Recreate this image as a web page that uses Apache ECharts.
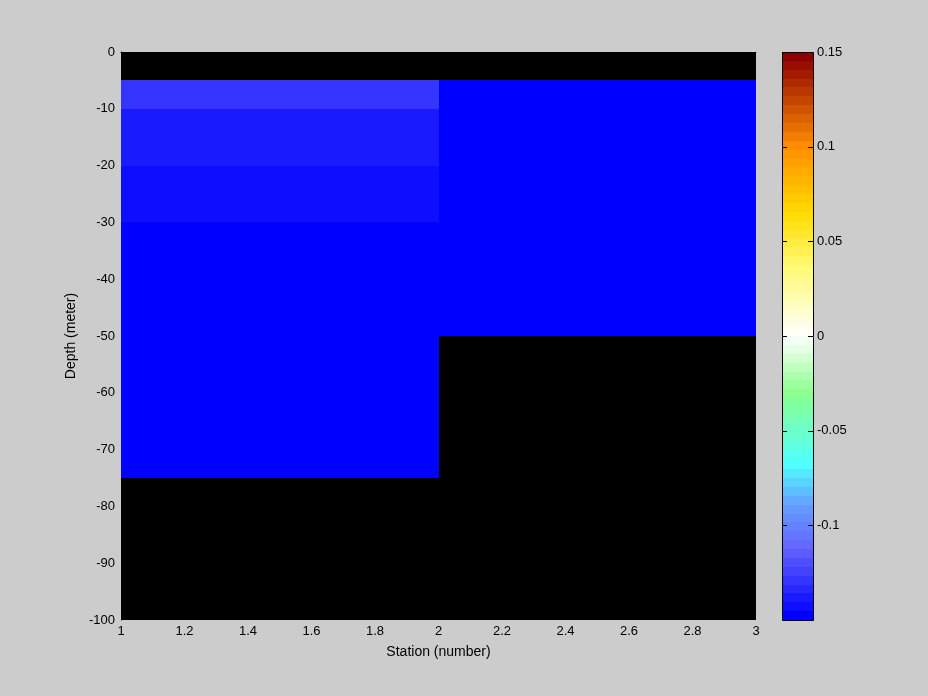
<!DOCTYPE html>
<html>
<head>
<meta charset="utf-8">
<script src="https://cdn.jsdelivr.net/npm/echarts@6/dist/echarts.min.js"></script>
<style>
html,body{margin:0;padding:0;background:#cccccc;}
#chart{width:928px;height:696px;}
</style>
</head>
<body>
<div id="chart"></div>
<script>
// ---- data ----
const stationEdges = [1, 2, 3];
const depthEdges = [0, -5, -10, -20, -30, -50, -75, -100];
// value for each depth interval (null = no data)
const station1Values = [null, -0.129, -0.138, -0.143, -0.148, -0.148, null];
const station2Values = [null, -0.148, -0.148, -0.148, -0.148, null, null];
const colorbarTickValues = [-0.1, -0.05, 0, 0.05, 0.1, 0.15];
const colorMin = -0.15, colorMax = 0.15, nLevels = 64;

// ---- colormap ----
const cmapStops = [
  [0, [0, 0, 255]], [0.12, [100, 100, 255]], [0.2, [100, 160, 255]],
  [0.27, [80, 255, 255]], [0.4, [140, 255, 140]], [0.5, [255, 255, 255]],
  [0.62, [255, 250, 120]], [0.72, [255, 220, 0]], [0.84, [255, 140, 0]],
  [1, [140, 0, 0]]
];
function interpStops(t) {
  for (let i = 1; i < cmapStops.length; i++) {
    const [t1, c1] = cmapStops[i];
    const [t0, c0] = cmapStops[i - 1];
    if (t <= t1) {
      const f = (t - t0) / (t1 - t0);
      return c0.map((v, j) => Math.round(v + (c1[j] - v) * f));
    }
  }
  return cmapStops[cmapStops.length - 1][1];
}
const colormap = [];
for (let k = 0; k < nLevels; k++) {
  const c = interpStops(k / (nLevels - 1));
  colormap.push('rgb(' + c.join(',') + ')');
}
function levelOf(v) {
  let k = Math.floor((v - colorMin) / (colorMax - colorMin) * nLevels);
  return Math.max(0, Math.min(nLevels - 1, k));
}

// ---- cells ----
const stationValues = [station1Values, station2Values];
const cells = [];
stationValues.forEach((vals, si) => {
  vals.forEach((v, di) => {
    if (v === null) return;
    cells.push([stationEdges[si], stationEdges[si + 1], depthEdges[di], depthEdges[di + 1], v]);
  });
});
const cbarCells = colormap.map((c, k) => [
  colorMin + k * (colorMax - colorMin) / nLevels,
  colorMin + (k + 1) * (colorMax - colorMin) / nLevels, k
]);

function rectFrom(p0, p1) {
  const x0 = Math.round(Math.min(p0[0], p1[0])), x1 = Math.round(Math.max(p0[0], p1[0]));
  const y0 = Math.round(Math.min(p0[1], p1[1])), y1 = Math.round(Math.max(p0[1], p1[1]));
  return { x: x0, y: y0, width: x1 - x0, height: y1 - y0 };
}

const font = 'Liberation Sans, Arial, sans-serif';
const chart = echarts.init(document.getElementById('chart'));
chart.setOption({
  backgroundColor: '#cccccc',
  animation: false,
  textStyle: { fontFamily: font, color: '#000' },
  grid: [
    { left: 121, top: 52, width: 635, height: 568, show: true, backgroundColor: '#000', borderColor: '#000', borderWidth: 0 },
    { left: 782, top: 52, width: 31, height: 568, show: false }
  ],
  xAxis: [
    {
      gridIndex: 0, type: 'value', min: 1, max: 3, interval: 0.2,
      name: 'Station (number)', nameLocation: 'middle', nameGap: 25,
      nameTextStyle: { fontSize: 14, fontFamily: font, color: '#000' },
      axisLine: { show: true, lineStyle: { color: '#000' } },
      axisTick: { show: false }, splitLine: { show: false },
      axisLabel: { fontSize: 13, color: '#000', margin: 5, fontFamily: font }
    },
    { gridIndex: 1, type: 'value', min: 0, max: 1, show: false }
  ],
  yAxis: [
    {
      gridIndex: 0, type: 'value', min: -100, max: 0, interval: 10,
      name: 'Depth (meter)', nameLocation: 'middle', nameGap: 40, nameRotate: 90,
      nameTextStyle: { fontSize: 14, fontFamily: font, color: '#000' },
      axisLine: { show: true, lineStyle: { color: '#000' } },
      axisTick: { show: false }, splitLine: { show: false },
      axisLabel: { fontSize: 13, color: '#000', margin: 6, fontFamily: font }
    },
    {
      gridIndex: 1, type: 'value', position: 'right', min: colorMin, max: colorMax, interval: 0.05,
      axisLine: { show: false }, axisTick: { show: false }, splitLine: { show: false },
      axisLabel: {
        fontSize: 13, color: '#000', margin: 4, fontFamily: font,
        formatter: v => {
          const m = colorbarTickValues.find(t => Math.abs(t - v) < 1e-9);
          return m === undefined ? '' : String(m);
        }
      }
    }
  ],
  series: [
    {
      type: 'custom', xAxisIndex: 0, yAxisIndex: 0,
      data: cells,
      encode: { x: [0, 1], y: [2, 3] },
      renderItem: (params, api) => {
        const p0 = api.coord([api.value(0), api.value(2)]);
        const p1 = api.coord([api.value(1), api.value(3)]);
        const fill = colormap[levelOf(api.value(4))];
        return { type: 'rect', shape: rectFrom(p0, p1), style: { fill: fill } };
      }
    },
    {
      type: 'custom', xAxisIndex: 1, yAxisIndex: 1,
      data: cbarCells,
      encode: { y: [0, 1] },
      renderItem: (params, api) => {
        const p0 = api.coord([0, api.value(0)]);
        const p1 = api.coord([1, api.value(1)]);
        return { type: 'rect', shape: rectFrom(p0, p1), style: { fill: colormap[api.value(2)] } };
      }
    },
    {
      // colorbar frame and tick marks
      type: 'custom', xAxisIndex: 1, yAxisIndex: 1, z: 20,
      data: colorbarTickValues.map(v => [v]),
      encode: { y: 0 },
      renderItem: (params, api) => {
        const y = Math.round(api.coord([0, api.value(0)])[1]) + 0.5;
        const xl = Math.round(api.coord([0, colorMin])[0]);
        const xr = Math.round(api.coord([1, colorMin])[0]);
        const children = [
          { type: 'line', shape: { x1: xl, y1: y, x2: xl + 5, y2: y }, style: { stroke: '#000', lineWidth: 1 } },
          { type: 'line', shape: { x1: xr - 5, y1: y, x2: xr, y2: y }, style: { stroke: '#000', lineWidth: 1 } }
        ];
        if (params.dataIndex === 0) {
          const yb = Math.round(api.coord([0, colorMin])[1]);
          const yt = Math.round(api.coord([0, colorMax])[1]);
          children.push({ type: 'rect', shape: { x: xl + 0.5, y: yt + 0.5, width: xr - xl, height: yb - yt },
            style: { fill: 'none', stroke: '#000', lineWidth: 1 } });
        }
        return { type: 'group', children: children };
      }
    }
  ]
});
</script>
</body>
</html>
